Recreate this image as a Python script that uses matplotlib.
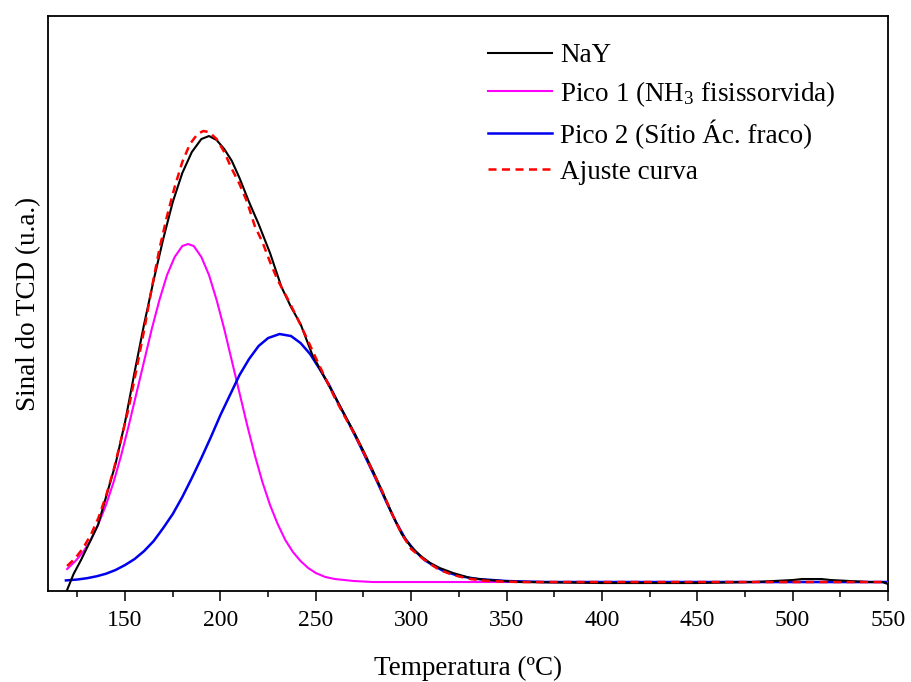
import numpy as np
import matplotlib
matplotlib.use("Agg")
import matplotlib.pyplot as plt
from matplotlib.ticker import MultipleLocator

# ===================== Data =====================
# Temperature in degC, signal in arbitrary units (baseline = 0)
nay_t = [119.6, 123, 126.9, 131, 135.8, 140, 145, 150, 155, 160,
         165, 170, 175, 180, 185, 190, 194, 198, 202, 206,
         210, 215, 220, 226, 232, 237, 242, 248, 255, 261,
         266, 270, 275, 280, 285, 290, 295, 300, 305, 310,
         315, 322, 331, 340, 357, 400, 450, 480, 490, 500,
         505, 510, 515, 520, 530, 540, 547, 550]
nay_s = [-8, 8, 22, 38, 57, 85, 118, 160, 210, 258,
         302, 343, 380, 409, 430, 443, 446, 442, 433, 421,
         404, 380, 358, 329, 295, 275, 258, 228, 203, 182,
         164, 150, 131, 111, 90, 68, 48, 35, 26, 19,
         14, 9, 4, 2, 0, -1, -1, 0, 1, 2,
         3, 3, 3, 2, 1, 0, 0, -2]

pico1_t = [119.6, 124, 128, 132, 136, 140, 144, 148, 152, 156,
           160, 164, 168, 172, 176, 180, 183, 186, 190, 194,
           198, 202, 206, 210, 214, 218, 222, 226, 230, 234,
           238, 242, 246, 250, 255, 260, 270, 280, 550]
pico1_s = [13, 21, 30, 42, 58, 77, 100, 127, 157, 189,
           221, 253, 282, 307, 325, 336, 338, 336, 325, 307,
           282, 253, 221, 189, 157, 127, 100, 77, 58, 42,
           30, 21, 14, 9, 5, 3, 1, 0, 0]

pico2_t = [119, 125, 130, 135, 140, 145, 150, 155, 160, 165,
           170, 175, 180, 185, 190, 195, 200, 205, 210, 215,
           220, 225, 231, 237, 242, 247, 252, 257, 262, 267,
           272, 277, 282, 287, 292, 297, 302, 307, 312, 317,
           325, 335, 350, 370, 550]
pico2_s = [1.6, 2.5, 3.8, 5.7, 8.3, 12, 17, 23, 31, 41,
           54, 68, 85, 104, 124, 145, 167, 187, 207, 223,
           236, 244, 248, 246, 239, 228, 213, 197, 178, 160,
           141, 121, 101, 80, 60, 43, 31, 22, 16, 11,
           6, 3, 1, 0, 0]

ajuste_t = [119.6, 124, 128, 132, 136, 140, 144, 148, 152, 156,
            160, 164, 168, 172, 176, 180, 184, 188, 191, 194,
            198, 202, 206, 210, 214, 218, 222, 226, 230, 235,
            240, 245, 250, 255, 260, 265, 270, 275, 280, 285,
            290, 295, 300, 305, 310, 315, 322, 331, 340, 357,
            550]
ajuste_s = [16, 24, 34, 47, 64, 86, 112, 143, 175, 213,
            252, 294, 333, 366, 395, 420, 438, 448, 451, 450,
            443, 430, 413, 398, 380, 356, 340, 320, 302, 284,
            265, 245, 224, 204, 184, 166, 149, 130, 110, 90,
            68, 48, 33, 25, 18, 12, 7, 3, 1, 0,
            0]

LABELS = ["NaY", "Pico 1 (NH$_3$ fisissorvida)", "Pico 2 (Sítio Ác. fraco)", "Ajuste curva"]
XLABEL = "Temperatura (ºC)"
YLABEL = "Sinal do TCD (u.a.)"

# ===================== Style =====================
plt.rcParams["font.family"] = ["Liberation Serif", "DejaVu Serif"]
plt.rcParams["mathtext.fontset"] = "custom"
plt.rcParams["mathtext.rm"] = "Liberation Serif"
plt.rcParams["mathtext.it"] = "Liberation Serif:italic"
FS_LABEL = 19.5
FS_TICK = 17


def main():
    fig = plt.figure(figsize=(9.11, 6.82), dpi=100)
    ax = fig.add_axes([0.0527, 0.1334, 0.9221, 0.8431])

    ax.plot(nay_t, nay_s, color="black", lw=1.5, label=LABELS[0], zorder=3)
    ax.plot(pico1_t, pico1_s, color="#ff00ff", lw=1.5, label=LABELS[1], zorder=2)
    ax.plot(pico2_t, pico2_s, color="#0000ee", lw=1.8, label=LABELS[2], zorder=2)
    ax.plot(ajuste_t, ajuste_s, color="#ff0000", lw=1.8, ls=(0, (3.2, 2.2)),
            label=LABELS[3], zorder=4)

    ax.set_xlim(109.6, 550)
    ax.set_ylim(-9, 566)
    ax.xaxis.set_major_locator(MultipleLocator(50))
    ax.xaxis.set_minor_locator(MultipleLocator(25))
    ax.set_yticks([])
    ax.tick_params(axis="x", which="major", direction="out", length=7.5, width=1.1,
                   labelsize=FS_TICK, pad=6)
    ax.tick_params(axis="x", which="minor", direction="out", length=4, width=1.1)
    for spine in ax.spines.values():
        spine.set_linewidth(1.3)

    ax.set_xlabel(XLABEL, fontsize=FS_LABEL, labelpad=18)
    ax.set_ylabel(YLABEL, fontsize=FS_LABEL, labelpad=5)

    ax.legend(loc="upper left", bbox_to_anchor=(0.524, 0.953), frameon=False,
              fontsize=FS_LABEL, borderpad=0, borderaxespad=0, handlelength=2.37,
              handletextpad=0.3, labelspacing=0.4)

    fig.savefig("out.png", dpi=100)
    plt.close(fig)


if __name__ == "__main__":
    main()
